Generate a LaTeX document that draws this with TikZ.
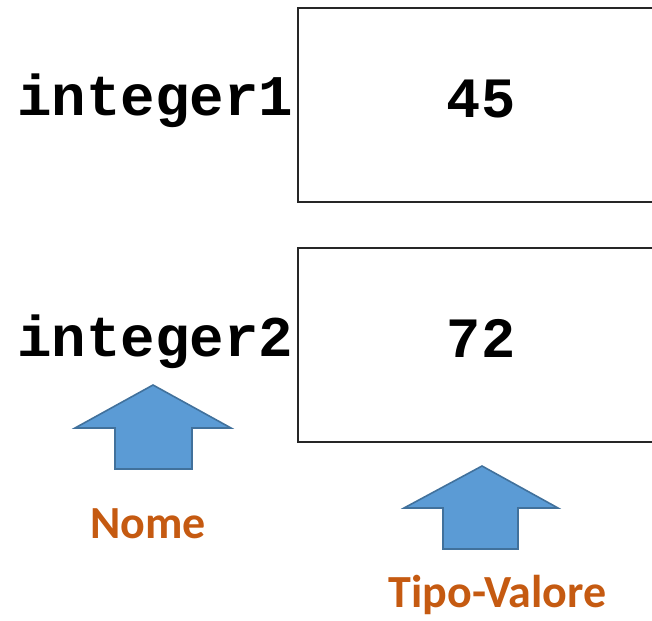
\documentclass[tikz,border=0pt]{standalone}
\usepackage{fontspec}
\newfontfamily\monob[BoldFont={Liberation Mono Bold}]{Liberation Mono}
\newfontfamily\carlito{Carlito}
\definecolor{arrowfill}{HTML}{5B9BD5}
\definecolor{arrowline}{HTML}{41719C}
\definecolor{labelorange}{HTML}{C55A11}
\begin{document}
\begin{tikzpicture}[x=1pt,y=-1pt,
  cell/.style={draw=black!85,line width=1.1pt},
  varname/.style={inner sep=0pt,anchor=base west,font=\monob\bfseries\fontsize{57.5}{60}\selectfont},
  value/.style={inner sep=0pt,anchor=base,font=\monob\bfseries\fontsize{57}{60}\selectfont},
  uparrow/.style={fill=arrowfill,draw=arrowline,line width=1.6pt,line join=miter},
  tag/.style={inner sep=0pt,anchor=base,text=labelorange,font=\carlito\bfseries\fontsize{46}{50}\selectfont}]
\useasboundingbox (0,0) rectangle (652,620);
\draw[cell] (670,8) -- (298,8) -- (298,202) -- (670,202);
\draw[cell] (670,248) -- (298,248) -- (298,442) -- (670,442);
\node[varname] (n1) at (17,116) {integer1};
\node[varname] (n2) at (17,356) {integer2};
\node[value] (v1) at (481,118) {45};
\node[value] (v2) at (481,357) {72};
\draw[uparrow] (153,385) -- (231,428) -- (192,428) -- (192,469) -- (115,469) -- (115,428) -- (75,428) -- cycle;
\draw[uparrow] (482,466) -- (558,508) -- (518,508) -- (518,549) -- (443,549) -- (443,508) -- (404,508) -- cycle;
\node[tag] (t1) at (148,538) {Nome};
\node[tag] (t2) at (497.5,607) {Tipo-Valore};
\end{tikzpicture}
\end{document}
